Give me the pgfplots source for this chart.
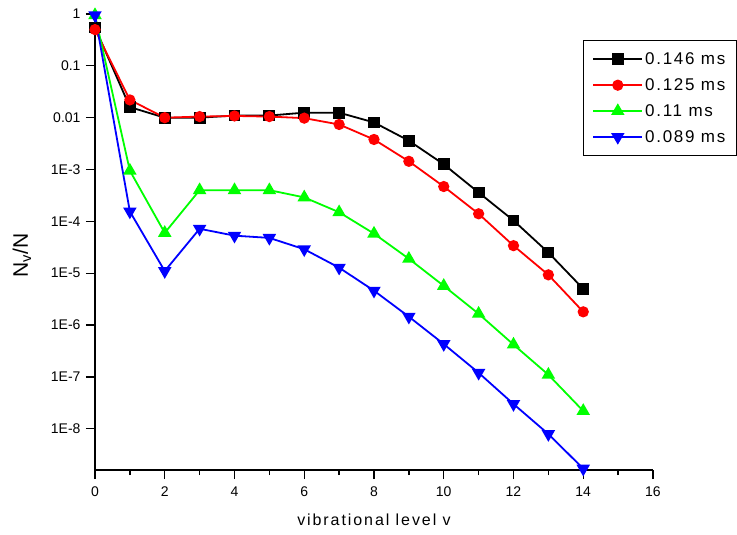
\documentclass[border=0pt]{standalone}
\usepackage{fontspec}
\setmainfont{Liberation Sans}
\usepackage{pgfplots}
\pgfplotsset{compat=1.18}
\definecolor{cgreen}{RGB}{0,255,0}
\definecolor{cblue}{RGB}{0,0,255}
\definecolor{cred}{RGB}{255,0,0}
\begin{document}
\begin{tikzpicture}
\begin{semilogyaxis}[
  scale only axis, width=558pt, height=456pt,
  xmin=0, xmax=16, ymin=1.6e-9, ymax=1,
  axis x line*=bottom, axis y line*=left,
  axis line style={-, line width=1.6pt},
  /pgf/number format/assume math mode=true,
  xtick={0,2,...,16}, minor xtick={1,3,...,15},
  ytick={1,0.1,0.01,1e-3,1e-4,1e-5,1e-6,1e-7,1e-8},
  yticklabels={1,0.1,0.01,1E-3,1E-4,1E-5,1E-6,1E-7,1E-8},
  tick align=outside,
  major tick length=9pt, minor tick length=5pt,
  tick style={line width=1.3pt, black},
  tick label style={font=\fontsize{14}{16}\selectfont},
  xticklabel style={yshift=-4pt},
  yticklabel style={xshift=-2pt},
  xlabel={vibrational level v},
  xlabel style={font=\fontsize{16}{18}\selectfont\addfontfeatures{LetterSpace=12}, at={(axis description cs:0.5,0)}, anchor=center, yshift=-50pt},
  ylabel={N$_\mathrm{v}$/N},
  ylabel style={font=\fontsize{21}{24}\selectfont, at={(axis description cs:-0.131,0.47)}, anchor=center, rotate=0},
  clip=false,
  legend style={at={(axis description cs:1.1505,0.943)}, anchor=north east,
    draw=black, line width=1.3pt, font=\fontsize{17}{19}\selectfont\addfontfeatures{LetterSpace=10},
    row sep=8.5pt, inner xsep=9pt, inner ysep=10pt, cells={anchor=west}},
  legend image code/.code={\draw[mark repeat=2,mark phase=2,#1, line width=1.8pt] plot coordinates {(0pt,0pt)(24.5pt,0pt)(49pt,0pt)};},
]
\addplot[black, line width=1.8pt, mark=square*, mark size=5pt] coordinates {
(0,0.55)(1,0.016)(2,0.0100)(3,0.0100)(4,0.011)(5,0.011)(6,0.0125)(7,0.0125)(8,0.0081)(9,0.0036)(10,0.00126)(11,3.6e-4)(12,1.04e-4)(13,2.5e-5)(14,5.0e-6)};
\addlegendentry{0.146 ms}
\addplot[cred, line width=1.8pt, mark=*, mark size=4.7pt] coordinates {
(0,0.5)(1,0.022)(2,0.0100)(3,0.0105)(4,0.0108)(5,0.0105)(6,0.0098)(7,0.0074)(8,0.0038)(9,0.00144)(10,4.7e-4)(11,1.4e-4)(12,3.4e-5)(13,9.3e-6)(14,1.8e-6)};
\addlegendentry{0.125 ms}
\addplot[cgreen, line width=1.8pt, mark=triangle*, mark size=6pt] coordinates {
(0,0.95)(1,9.5e-4)(2,6.0e-5)(3,4.0e-4)(4,4.0e-4)(5,4.0e-4)(6,2.9e-4)(7,1.5e-4)(8,5.8e-5)(9,1.9e-5)(10,5.7e-6)(11,1.65e-6)(12,4.2e-7)(13,1.1e-7)(14,2.2e-8)};
\addlegendentry{0.11 ms}
\addplot[cblue, line width=1.8pt, mark=triangle*, mark options={rotate=180}, mark size=6pt] coordinates {
(0,0.95)(1,1.55e-4)(2,1.1e-5)(3,7.2e-5)(4,5.3e-5)(5,4.8e-5)(6,2.9e-5)(7,1.28e-5)(8,4.6e-6)(9,1.45e-6)(10,4.3e-7)(11,1.2e-7)(12,3.0e-8)(13,7.9e-9)(14,1.7e-9)};
\addlegendentry{0.089 ms}
\end{semilogyaxis}
\pgfresetboundingbox
\path (-95pt,-65pt) rectangle (642pt,470pt);
\end{tikzpicture}
\end{document}
